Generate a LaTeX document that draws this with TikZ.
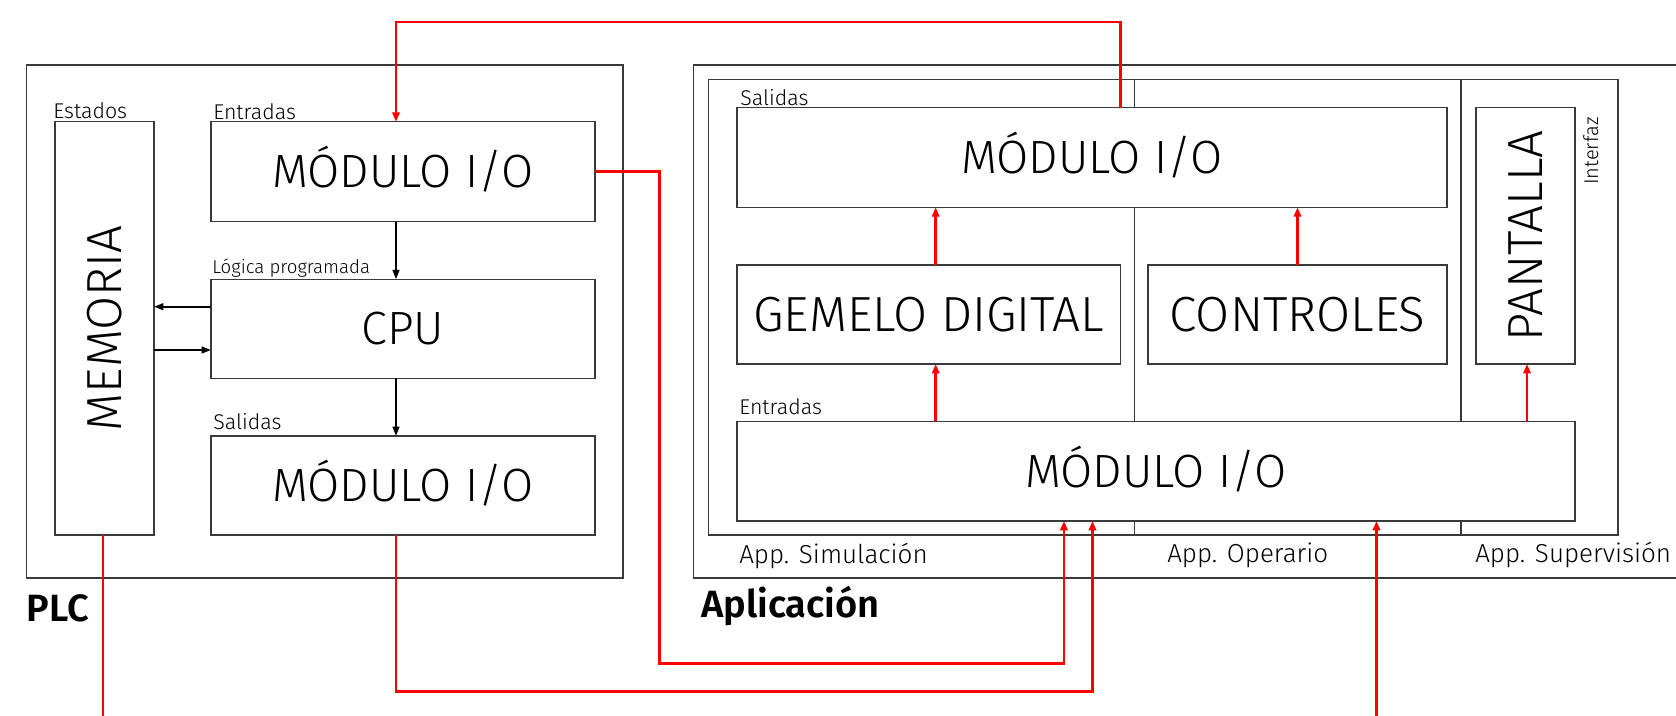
\documentclass[tikz,border=0pt]{standalone}
\usepackage{fontspec}
\setmainfont{Fira Sans Light}[BoldFont={Fira Sans SemiBold}]
\usetikzlibrary{arrows.meta,fit}
\definecolor{framec}{HTML}{3A3A3A}
\definecolor{wirec}{HTML}{FF0000}

\begin{document}
\begin{tikzpicture}[x=0.75pt,y=-0.75pt,
  frame/.style={draw=framec, line width=1.1pt, inner sep=0pt, outer sep=0pt},
  % a box given by its width and height in pixels
  box/.style 2 args={frame, fill=white, font=\fontsize{35}{40}\selectfont,
    minimum width={#1*0.75pt}, minimum height={#2*0.75pt}},
  capsbox/.style 2 args={box={#1}{#2}, text height=24.2pt, text depth=0pt},
  wide/.style={font=\fontsize{37}{42}\selectfont},
  widecaps/.style={wide, text height=25.6pt, text depth=0pt},
  lab/.style={inner sep=0pt, anchor=base west, font=\fontsize{16}{18}\selectfont},
  tinylab/.style={inner sep=0pt, anchor=base west, font=\fontsize{14}{16}\selectfont},
  applab/.style={inner sep=0pt, anchor=base west, font=\fontsize{19.5}{22}\selectfont},
  title/.style={inner sep=0pt, anchor=base west, font=\fontsize{28.5}{32}\selectfont\bfseries},
  blk/.style={draw=black, line width=1.5pt, -{Triangle[length=7pt,width=5pt]}},
  wire/.style={draw=wirec, line width=2.2pt},
  wirearrow/.style={wire, -{Triangle[length=7pt,width=5.5pt]}}]
\useasboundingbox (0,0) rectangle (1676,715);
\clip (0,0) rectangle (1676,715);

% PLC side
\node[frame, fit={(26.5,65) (623,578)}] (plc) {};
\node[box={99}{413.3}, wide] (mem) at (104.5,328.35) {\rotatebox{90}{MEMORIA}};
\node[capsbox={384}{100}] (pin) at (403,171.7) {MÓDULO I/O};
\node[capsbox={384}{99}] (cpu) at (403,328.8) {CPU};
\node[capsbox={384}{99}] (pout) at (403,485.5) {MÓDULO I/O};

\node[lab] (lest) at (53,118) {Estados};
\node[lab] (lpin) at (213,119) {Entradas};
\node[tinylab] (lcpu) at (212,273) {Lógica programada};
\node[lab] (lpout) at (213,429) {Salidas};
\node[title] (lplc) at (26.5,621.7) {PLC};

% application side
\node[frame, fit={(693.6,65) (1720,578)}] (app) {};
\node[frame, fit={(708.6,79.3) (1618,535)}] (apps) {};
\coordinate (d1) at (1134.6,0);
\coordinate (d2) at (1461,0);
\draw[framec, line width=1.1pt] (d1 |- apps.north) -- (d1 |- apps.south);
\draw[framec, line width=1.1pt] (d2 |- apps.north) -- (d2 |- apps.south);

\node[capsbox={710}{99.6}] (aout) at (1092,157.5) {MÓDULO I/O};
\node[capsbox={383.4}{99}, widecaps] (gem) at (928.7,314.5) {GEMELO DIGITAL};
\node[capsbox={299}{99}, widecaps] (ctl) at (1297.5,314.5) {CONTROLES};
\node[capsbox={838}{99.7}] (ain) at (1156,471.15) {MÓDULO I/O};
\node[box={99}{256.3}, wide] (pan) at (1525.5,235.85) {\rotatebox{90}{PANTALLA}};

\node[lab] (laout) at (740,105) {Salidas};
\node[lab] (lain) at (739,414) {Entradas};
\node[lab, rotate=90, font=\fontsize{15}{17}\selectfont] (lint) at (1598,185) {Interfaz};
\node[applab] (lsim) at (739,563) {App. Simulación};
\node[applab] (lop) at (1167,562) {App. Operario};
\node[applab] (lsup) at (1475,562.5) {App. Supervisión};
\node[title] (lapp) at (701,617.7) {Aplicación};

% PLC internal flow
\coordinate (cx) at (396,0);
\coordinate (m1) at (0,306.7);
\coordinate (m2) at (0,350);
\draw[blk] (cx |- pin.south) -- (cx |- cpu.north);
\draw[blk] (cx |- cpu.south) -- (cx |- pout.north);
\draw[blk] (cpu.west |- m1) -- (mem.east |- m1);
\draw[blk] (mem.east |- m2) -- (cpu.west |- m2);

% application internal flow
\coordinate (gx) at (935.7,0);
\coordinate (px) at (1527,0);
\draw[wirearrow] (gx |- ain.north) -- (gx |- gem.south);
\draw[wirearrow] (gx |- gem.north) -- (gx |- aout.south);
\draw[wirearrow] (ctl.north) -- (ctl.north |- aout.south);
\draw[wirearrow] (px |- ain.north) -- (px |- pan.south);

% links between PLC and application
\coordinate (t1) at (1120.4,22);
\coordinate (t2) at (396,22);
\draw[wirearrow] (t1 |- aout.north) -- (t1) -- (t2) -- (t2 |- pin.north);

\coordinate (k1) at (659.6,663.3);
\coordinate (k2) at (1064,663.3);
\draw[wirearrow] (pin.east) -- (pin.east -| k1) -- (k1) -- (k2) -- (k2 |- ain.south);

\coordinate (k3) at (1092.5,691.7);
\draw[wirearrow] (cx |- pout.south) -- (cx |- k3) -- (k3) -- (k3 |- ain.south);

\coordinate (memlink) at (103,730);
\draw[wire] (memlink |- mem.south) -- (memlink);

\coordinate (oplink) at (1376.5,730);
\draw[wirearrow] (oplink) -- (oplink |- ain.south);
\end{tikzpicture}
\end{document}
